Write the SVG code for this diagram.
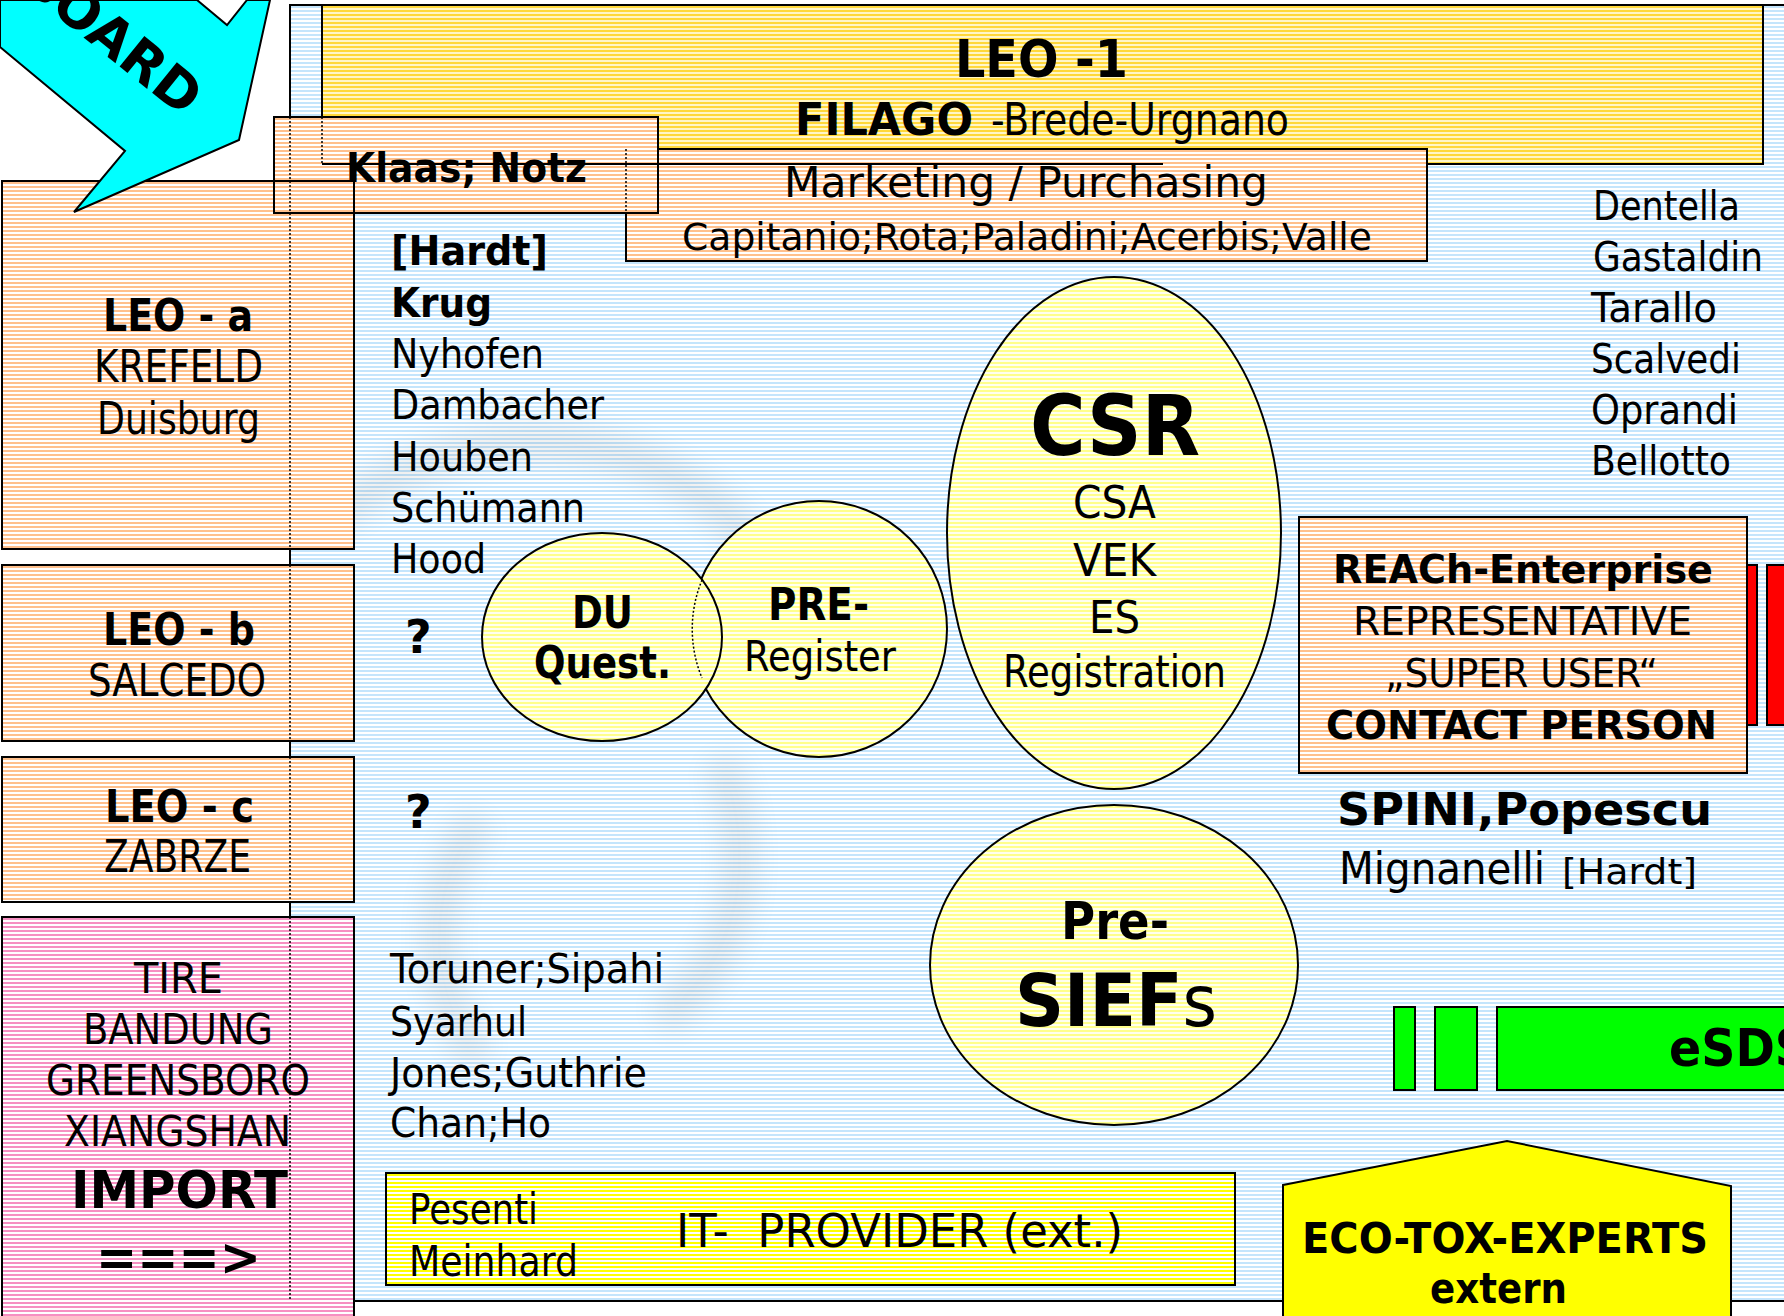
<svg xmlns="http://www.w3.org/2000/svg" width="1784" height="1316" viewBox="0 0 1784 1316">
<defs>
<pattern id="hBlue" width="8" height="4" patternUnits="userSpaceOnUse"><rect width="8" height="4" fill="#ffffff"/><rect y="2" width="8" height="2" fill="#c4e5fc"/></pattern>
<pattern id="hOrange" width="8" height="4" patternUnits="userSpaceOnUse"><rect width="8" height="4" fill="#ffffff"/><rect y="2" width="8" height="2" fill="#ffc08c"/></pattern>
<pattern id="hPink" width="8" height="4" patternUnits="userSpaceOnUse"><rect width="8" height="4" fill="#ffffff"/><rect y="2" width="8" height="2" fill="#f690c2"/></pattern>
<pattern id="hGold" width="8" height="4" patternUnits="userSpaceOnUse"><rect width="8" height="4" fill="#fff6c8"/><rect y="2" width="8" height="2" fill="#ffd83a"/></pattern>
<pattern id="hYellow" width="8" height="4" patternUnits="userSpaceOnUse"><rect width="8" height="4" fill="#fffff0"/><rect y="2" width="8" height="2" fill="#ffff8c"/></pattern>
<pattern id="hBright" width="8" height="4" patternUnits="userSpaceOnUse"><rect width="8" height="4" fill="#ffffff"/><rect y="2" width="8" height="2" fill="#ffff00"/></pattern>
<filter id="blur" x="-20%" y="-20%" width="140%" height="140%"><feGaussianBlur stdDeviation="14"/></filter>
<style>
.t{font-family:"DejaVu Sans","Liberation Sans",sans-serif;fill:#000;}
.b{font-weight:bold;}
.box{stroke:#000;stroke-width:2;}
.ell{stroke:#000;stroke-width:2;fill:url(#hYellow);}
.dot{stroke:#000;stroke-width:1.5;stroke-dasharray:2 2;fill:none;}
</style>
</defs>
<rect width="1784" height="1316" fill="#ffffff"/>

<g id="background">
<rect x="290" y="5" width="1520" height="1296" fill="url(#hBlue)" class="box"/>
<g opacity="0.07" filter="url(#blur)" fill="none" stroke="#000" stroke-width="34">
<path d="M330 520 C420 440 560 420 660 470 C760 520 800 600 800 700"/>
<path d="M480 1060 C420 980 430 880 480 820"/>
<path d="M720 760 C760 860 740 960 660 1020"/>
</g>
</g>

<g id="connectors"/>

<g id="leo1">
<rect x="322" y="5" width="1441" height="159" fill="url(#hGold)" class="box"/>
<text class="t b" x="955" y="77" font-size="52" textLength="173" lengthAdjust="spacingAndGlyphs">LEO -1</text>
<text class="t b" x="795" y="135" font-size="45" textLength="178" lengthAdjust="spacingAndGlyphs">FILAGO</text>
<text class="t" x="991" y="135" font-size="44" textLength="298" lengthAdjust="spacingAndGlyphs">-Brede-Urgnano</text>
</g>

<g id="marketing">
<rect x="626" y="149" width="801" height="112" fill="url(#hOrange)" class="box"/>
</g>

<g id="leo-a">
<rect x="2" y="181" width="352" height="368" fill="url(#hOrange)" class="box"/>
<text class="t b" x="103" y="331" font-size="44" textLength="150" lengthAdjust="spacingAndGlyphs">LEO - a</text>
<text class="t" x="94" y="382" font-size="44" textLength="169" lengthAdjust="spacingAndGlyphs">KREFELD</text>
<text class="t" x="97" y="434" font-size="44" textLength="163" lengthAdjust="spacingAndGlyphs">Duisburg</text>
</g>

<g id="leo-b">
<rect x="2" y="565" width="352" height="176" fill="url(#hOrange)" class="box"/>
<text class="t b" x="103" y="645" font-size="44" textLength="152" lengthAdjust="spacingAndGlyphs">LEO - b</text>
<text class="t" x="88" y="696" font-size="44" textLength="178" lengthAdjust="spacingAndGlyphs">SALCEDO</text>
</g>

<g id="leo-c">
<rect x="2" y="757" width="352" height="145" fill="url(#hOrange)" class="box"/>
<text class="t b" x="105" y="822" font-size="44" textLength="149" lengthAdjust="spacingAndGlyphs">LEO - c</text>
<text class="t" x="104" y="872" font-size="44" textLength="147" lengthAdjust="spacingAndGlyphs">ZABRZE</text>
</g>

<g id="tire">
<rect x="2" y="917" width="352" height="420" fill="url(#hPink)" class="box"/>
<text class="t" x="134" y="993" font-size="42" textLength="89" lengthAdjust="spacingAndGlyphs">TIRE</text>
<text class="t" x="83" y="1044" font-size="42" textLength="190" lengthAdjust="spacingAndGlyphs">BANDUNG</text>
<text class="t" x="46" y="1095" font-size="42" textLength="264" lengthAdjust="spacingAndGlyphs">GREENSBORO</text>
<text class="t" x="64" y="1146" font-size="42" textLength="227" lengthAdjust="spacingAndGlyphs">XIANGSHAN</text>
<text class="t b" x="71" y="1208" font-size="52" textLength="217" lengthAdjust="spacingAndGlyphs">IMPORT</text>
<text class="t b" x="96" y="1275" font-size="52" textLength="165" lengthAdjust="spacingAndGlyphs">===&gt;</text>
</g>

<g id="klaas">
<rect x="274" y="117" width="384" height="96" fill="url(#hOrange)" class="box"/>
<rect x="2" y="181" width="352" height="368" fill="none" class="box"/>
<line x1="322" y1="164" x2="1163" y2="164" stroke="#000" stroke-width="2"/>
<line x1="322" y1="117" x2="322" y2="164" class="dot"/>
<line x1="626" y1="149" x2="626" y2="213" class="dot"/>
<text class="t b" x="346" y="182" font-size="41" textLength="241" lengthAdjust="spacingAndGlyphs">Klaas; Notz</text>
</g>

<g id="marketing-text">
<text class="t" x="784" y="197" font-size="43" textLength="484" lengthAdjust="spacingAndGlyphs">Marketing / Purchasing</text>
<text class="t" x="682" y="250" font-size="37" textLength="690" lengthAdjust="spacingAndGlyphs">Capitanio;Rota;Paladini;Acerbis;Valle</text>
</g>

<g id="board">
<polygon points="0,0 197,0 227,25 247,0 270,0 239,140 74,212 125,151 0,47" fill="#00ffff" stroke="#000" stroke-width="2"/>
<text class="t b" font-size="54" text-anchor="end" transform="translate(183,118) rotate(39)">BOARD</text>
</g>

<line id="bg-edge" x1="290" y1="117" x2="290" y2="1301" class="dot"/>

<g id="names-left">
<text class="t b" x="391" y="265" font-size="41" textLength="157" lengthAdjust="spacingAndGlyphs">[Hardt]</text>
<text class="t b" x="391" y="317" font-size="41" textLength="101" lengthAdjust="spacingAndGlyphs">Krug</text>
<text class="t" x="391" y="368" font-size="41" textLength="153" lengthAdjust="spacingAndGlyphs">Nyhofen</text>
<text class="t" x="391" y="419" font-size="41" textLength="213" lengthAdjust="spacingAndGlyphs">Dambacher</text>
<text class="t" x="391" y="471" font-size="41" textLength="142" lengthAdjust="spacingAndGlyphs">Houben</text>
<text class="t" x="391" y="522" font-size="41" textLength="194" lengthAdjust="spacingAndGlyphs">Schümann</text>
<text class="t" x="391" y="573" font-size="41" textLength="95" lengthAdjust="spacingAndGlyphs">Hood</text>
<text class="t b" x="405" y="653" font-size="46">?</text>
<text class="t b" x="405" y="828" font-size="46">?</text>
<text class="t" x="390" y="983" font-size="41" textLength="274" lengthAdjust="spacingAndGlyphs">Toruner;Sipahi</text>
<text class="t" x="390" y="1036" font-size="41" textLength="137" lengthAdjust="spacingAndGlyphs">Syarhul</text>
<text class="t" x="390" y="1087" font-size="41" textLength="257" lengthAdjust="spacingAndGlyphs">Jones;Guthrie</text>
<text class="t" x="390" y="1137" font-size="41" textLength="161" lengthAdjust="spacingAndGlyphs">Chan;Ho</text>
</g>

<g id="names-right">
<text class="t" x="1593" y="220" font-size="40" textLength="147" lengthAdjust="spacingAndGlyphs">Dentella</text>
<text class="t" x="1593" y="271" font-size="40" textLength="170" lengthAdjust="spacingAndGlyphs">Gastaldin</text>
<text class="t" x="1591" y="322" font-size="40" textLength="126" lengthAdjust="spacingAndGlyphs">Tarallo</text>
<text class="t" x="1591" y="373" font-size="40" textLength="150" lengthAdjust="spacingAndGlyphs">Scalvedi</text>
<text class="t" x="1591" y="424" font-size="40" textLength="147" lengthAdjust="spacingAndGlyphs">Oprandi</text>
<text class="t" x="1591" y="475" font-size="40" textLength="140" lengthAdjust="spacingAndGlyphs">Bellotto</text>
</g>

<g id="pre-register">
<ellipse cx="819" cy="629" rx="128" ry="128" class="ell"/>
<text class="t b" x="768" y="620" font-size="44" textLength="101" lengthAdjust="spacingAndGlyphs">PRE-</text>
<text class="t" x="744" y="671" font-size="42" textLength="152" lengthAdjust="spacingAndGlyphs">Register</text>
</g>

<g id="du-quest">
<ellipse cx="602" cy="637" rx="120" ry="104" class="ell"/>
<path d="M702 580 A128 128 0 0 0 702 678" class="dot"/>
<text class="t b" x="572" y="628" font-size="44" textLength="61" lengthAdjust="spacingAndGlyphs">DU</text>
<text class="t b" x="534" y="678" font-size="44" textLength="137" lengthAdjust="spacingAndGlyphs">Quest.</text>
</g>

<g id="csr">
<ellipse cx="1114" cy="533" rx="167" ry="256" class="ell"/>
<text class="t b" x="1030" y="455" font-size="84" textLength="170" lengthAdjust="spacingAndGlyphs">CSR</text>
<text class="t" x="1073" y="518" font-size="44" textLength="83" lengthAdjust="spacingAndGlyphs">CSA</text>
<text class="t" x="1073" y="576" font-size="44" textLength="83" lengthAdjust="spacingAndGlyphs">VEK</text>
<text class="t" x="1089" y="633" font-size="44" textLength="51" lengthAdjust="spacingAndGlyphs">ES</text>
<text class="t" x="1003" y="687" font-size="44" textLength="223" lengthAdjust="spacingAndGlyphs">Registration</text>
</g>

<g id="pre-siefs">
<ellipse cx="1114" cy="965" rx="184" ry="160" class="ell"/>
<text class="t b" x="1061" y="939" font-size="52" textLength="108" lengthAdjust="spacingAndGlyphs">Pre-</text>
<text class="t b" x="1015" y="1026" font-size="73" textLength="202" lengthAdjust="spacingAndGlyphs">SIEF<tspan font-weight="normal" font-size="71">s</tspan></text>
</g>

<g id="reach">
<rect x="1299" y="517" width="448" height="256" fill="url(#hOrange)" class="box"/>
<text class="t b" x="1333" y="583" font-size="39" textLength="380" lengthAdjust="spacingAndGlyphs">REACh-Enterprise</text>
<text class="t" x="1353" y="635" font-size="39" textLength="339" lengthAdjust="spacingAndGlyphs">REPRESENTATIVE</text>
<text class="t" x="1385" y="687" font-size="39" textLength="273" lengthAdjust="spacingAndGlyphs">„SUPER USER“</text>
<text class="t b" x="1326" y="739" font-size="39" textLength="391" lengthAdjust="spacingAndGlyphs">CONTACT PERSON</text>
</g>

<g id="red-bars">
<rect x="1747" y="565" width="10" height="160" fill="#ff0000" class="box"/>
<rect x="1767" y="565" width="40" height="160" fill="#ff0000" class="box"/>
</g>

<g id="spini">
<text class="t b" x="1337" y="825" font-size="44" textLength="375" lengthAdjust="spacingAndGlyphs">SPINI,Popescu</text>
<text class="t" x="1339" y="884" font-size="44" textLength="206" lengthAdjust="spacingAndGlyphs">Mignanelli</text>
<text class="t" x="1562" y="884" font-size="36" textLength="135" lengthAdjust="spacingAndGlyphs">[Hardt]</text>
</g>

<g id="esds">
<rect x="1394" y="1007" width="21" height="83" fill="#00ff00" class="box"/>
<rect x="1435" y="1007" width="42" height="83" fill="#00ff00" class="box"/>
<rect x="1497" y="1007" width="320" height="83" fill="#00ff00" class="box"/>
<text class="t b" x="1669" y="1066" font-size="52" textLength="140" lengthAdjust="spacingAndGlyphs">eSDS</text>
</g>

<g id="it-provider">
<rect x="386" y="1173" width="849" height="112" fill="url(#hBright)" class="box"/>
<text class="t" x="409" y="1224" font-size="42" textLength="129" lengthAdjust="spacingAndGlyphs">Pesenti</text>
<text class="t" x="409" y="1276" font-size="42" textLength="169" lengthAdjust="spacingAndGlyphs">Meinhard</text>
<text class="t" x="676" y="1247" font-size="46" textLength="447" lengthAdjust="spacingAndGlyphs">IT-&#160; PROVIDER (ext.)</text>
</g>

<g id="eco-tox">
<polygon points="1283,1185 1507,1141 1731,1186 1731,1330 1283,1330" fill="#ffff00" stroke="#000" stroke-width="2"/>
<text class="t b" x="1302" y="1253" font-size="43" textLength="406" lengthAdjust="spacingAndGlyphs">ECO-TOX-EXPERTS</text>
<text class="t b" x="1430" y="1303" font-size="43" textLength="137" lengthAdjust="spacingAndGlyphs">extern</text>
</g>
</svg>
